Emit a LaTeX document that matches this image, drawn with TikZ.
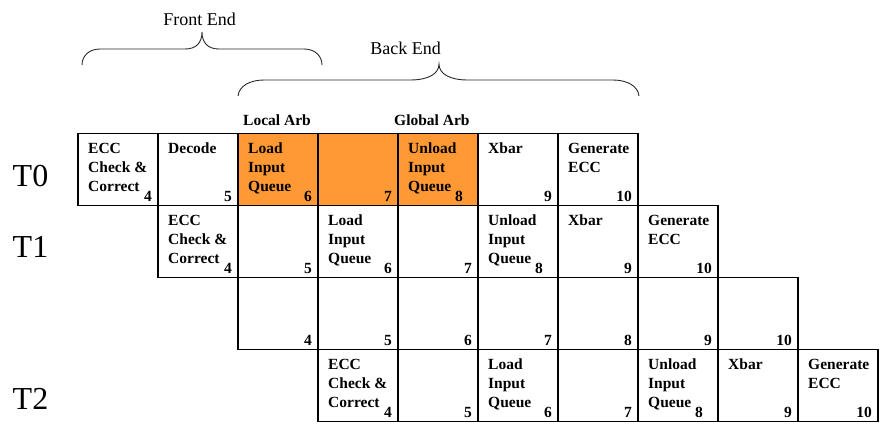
\documentclass[tikz,border=0pt]{standalone}
\usepackage{fontspec}
\setmainfont{Liberation Serif}
\definecolor{stageorange}{RGB}{255,153,51}
\definecolor{braceline}{RGB}{40,40,40}
\tikzset{
  cellbox/.style={draw=black, line width=1.1pt, anchor=north west, minimum width=80pt, minimum height=72pt, inner sep=0pt, outer sep=0pt},
  celltext/.style={anchor=base west, inner sep=0pt, font=\fontsize{15.5}{19}\selectfont\bfseries},
  cellnum/.style={anchor=base east, inner sep=0pt, font=\fontsize{15.5}{19}\selectfont\bfseries},
  toplabel/.style={anchor=base west, inner sep=0pt, font=\fontsize{15.5}{19}\selectfont\bfseries},
  threadlabel/.style={anchor=base west, inner sep=0pt, font=\fontsize{32}{36}\selectfont},
  endlabel/.style={anchor=base, inner sep=0pt, font=\fontsize{18}{22}\selectfont},
  bracepath/.style={draw=braceline, line width=0.9pt}
}
% #1 number offset from west, #2 name, #3 x, #4 y, #5 fill, #6 text, #7 number
\newcommand\stagecell[7][74]{%
  \node[cellbox, fill=#5] (#2) at (#3,#4) {};
  \node[celltext] (#2-t) at ([xshift=10pt,yshift=-20pt]#2.north west) {\parbox[t]{70pt}{\raggedright #6}};
  \node[cellnum] (#2-n) at ([xshift=#1pt,yshift=4.5pt]#2.south west) {#7};
}
\newcommand\plaincell[5]{%
  \node[cellbox, fill=#4] (#1) at (#2,#3) {};
  \node[cellnum] (#1-n) at ([xshift=74pt,yshift=4.5pt]#1.south west) {#5};
}
\begin{document}
\begin{tikzpicture}[x=1pt,y=-1pt]
\useasboundingbox (0,0) rectangle (883,431);

% braces
\coordinate (fe-l) at (82,65);
\coordinate (fe-r) at (322,65);
\coordinate (fe-tip) at (202,32);
\draw[bracepath] (fe-l) .. controls (82,56) and (89,49) .. (100,49) -- (185,49)
  .. controls (196,49) and (202,43) .. (fe-tip)
  .. controls (202,43) and (208,49) .. (219,49) -- (304,49)
  .. controls (315,49) and (322,56) .. (fe-r);
\coordinate (be-l) at (238,96);
\coordinate (be-r) at (639,96);
\coordinate (be-tip) at (439,64);
\draw[bracepath] (be-l) .. controls (239,86) and (250,80) .. (264,80) -- (410,80)
  .. controls (428,80) and (439,74) .. (be-tip)
  .. controls (439,74) and (450,80) .. (468,80) -- (613,80)
  .. controls (627,80) and (638,86) .. (be-r);
\node[endlabel] (fe) at (199.5,25) {Front End};
\node[endlabel] (be) at (405.5,54) {Back End};

\node[toplabel] (localarb) at (243,125) {Local Arb};
\node[toplabel] (globalarb) at (394,125) {Global Arb};

% thread labels
\node[threadlabel] (t0) at (12.5,186) {T0};
\node[threadlabel] (t1) at (12.5,257) {T1};
\node[threadlabel] (t2) at (12.5,409) {T2};

% row 0
\stagecell{r0c0}{78}{133.5}{white}{ECC\\Check \&\\Correct}{4}
\stagecell{r0c1}{158}{133.5}{white}{Decode}{5}
\stagecell{r0c2}{238}{133.5}{stageorange}{Load\\Input\\Queue}{6}
\plaincell{r0c3}{318}{133.5}{stageorange}{7}
\stagecell[65]{r0c4}{398}{133.5}{stageorange}{Unload\\Input\\Queue}{8}
\stagecell{r0c5}{478}{133.5}{white}{Xbar}{9}
\stagecell{r0c6}{558}{133.5}{white}{Generate\\ECC}{10}

% row 1
\stagecell{r1c1}{158}{205.5}{white}{ECC\\Check \&\\Correct}{4}
\plaincell{r1c2}{238}{205.5}{white}{5}
\stagecell{r1c3}{318}{205.5}{white}{Load\\Input\\Queue}{6}
\plaincell{r1c4}{398}{205.5}{white}{7}
\stagecell[65]{r1c5}{478}{205.5}{white}{Unload\\Input\\Queue}{8}
\stagecell{r1c6}{558}{205.5}{white}{Xbar}{9}
\stagecell{r1c7}{638}{205.5}{white}{Generate\\ECC}{10}

% row 2
\plaincell{r2c2}{238}{277.5}{white}{4}
\plaincell{r2c3}{318}{277.5}{white}{5}
\plaincell{r2c4}{398}{277.5}{white}{6}
\plaincell{r2c5}{478}{277.5}{white}{7}
\plaincell{r2c6}{558}{277.5}{white}{8}
\plaincell{r2c7}{638}{277.5}{white}{9}
\plaincell{r2c8}{718}{277.5}{white}{10}

% row 3
\stagecell{r3c3}{318}{349.5}{white}{ECC\\Check \&\\Correct}{4}
\plaincell{r3c4}{398}{349.5}{white}{5}
\stagecell{r3c5}{478}{349.5}{white}{Load\\Input\\Queue}{6}
\plaincell{r3c6}{558}{349.5}{white}{7}
\stagecell[65]{r3c7}{638}{349.5}{white}{Unload\\Input\\Queue}{8}
\stagecell{r3c8}{718}{349.5}{white}{Xbar}{9}
\stagecell{r3c9}{798}{349.5}{white}{Generate\\ECC}{10}
\end{tikzpicture}
\end{document}
